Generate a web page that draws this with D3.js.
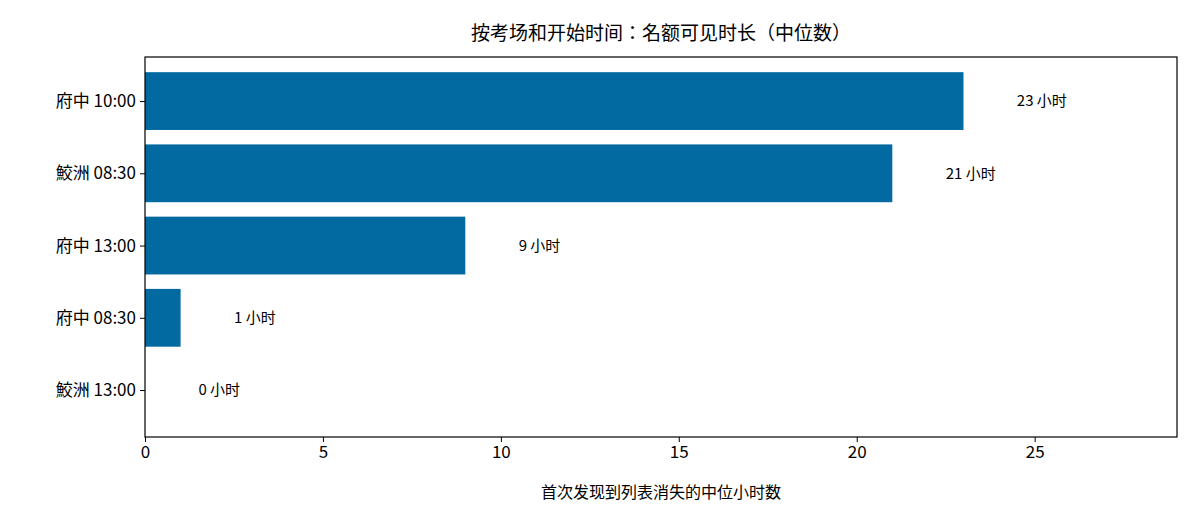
<!DOCTYPE html>
<html><head><meta charset="utf-8">
<script src="https://cdn.jsdelivr.net/npm/d3@7"></script>
<style>body{margin:0;background:#fff}text{font-family:"Noto Sans CJK JP","Noto Sans",sans-serif;fill:#000}</style>
</head><body><svg id="c" width="1200" height="525"></svg>
<script>
const categories = ["府中 10:00","鮫洲 08:30","府中 13:00","府中 08:30","鮫洲 13:00"];
const values = [23,21,9,1,0];
const xTicks = [0,5,10,15,20,25];
const title = "按考场和开始时间：名额可见时长（中位数）";
const xLabel = "首次发现到列表消失的中位小时数";

const svg = d3.select("#c");
const L=145,R=1177,T=57,B=437;
const x = d3.scaleLinear().domain([0,29]).range([L,R]);
const y = d3.scaleLinear().domain([-0.61,4.65]).range([T,B]);
const bh = 0.8*(y(1)-y(0));

svg.selectAll("rect.bar").data(values).join("rect")
  .attr("x",x(0)).attr("y",(d,i)=>y(i)-bh/2).attr("width",d=>x(d)-x(0)).attr("height",bh)
  .attr("fill","#036aa1");
svg.selectAll("text.lbl").data(values).join("text")
  .attr("x",d=>x(d+1.5)).attr("y",(d,i)=>y(i)).attr("dy","0.35em")
  .attr("font-size",15).text(d=>d+" 小时");

svg.append("rect").attr("x",L).attr("y",T).attr("width",R-L).attr("height",B-T)
  .attr("fill","none").attr("stroke","#000").attr("stroke-width",1.2);

const xa = svg.append("g").attr("transform",`translate(0,${B})`)
  .call(d3.axisBottom(x).tickValues(xTicks).tickSize(5).tickPadding(4));
xa.select(".domain").remove();
xa.selectAll("text").attr("font-size",17).attr("fill","#000");
const ya = svg.append("g").attr("transform",`translate(${L},0)`)
  .call(d3.axisLeft(y).tickValues(d3.range(categories.length)).tickFormat(i=>categories[i]).tickSize(5).tickPadding(4));
ya.select(".domain").remove();
ya.selectAll("text").attr("font-size",17).attr("fill","#000");

svg.append("text").attr("x",(L+R)/2).attr("y",33).attr("dy","0.35em").attr("text-anchor","middle")
  .attr("font-size",19).text(title);
svg.append("text").attr("x",(L+R)/2).attr("y",492).attr("dy","0.35em").attr("text-anchor","middle")
  .attr("font-size",16).text(xLabel);
</script></body></html>
